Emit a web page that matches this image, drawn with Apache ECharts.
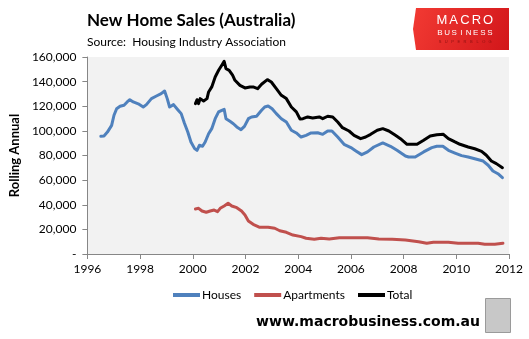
<!DOCTYPE html>
<html>
<head>
<meta charset="utf-8">
<script src="https://cdn.jsdelivr.net/npm/echarts@6/dist/echarts.min.js"></script>
<style>html,body{margin:0;padding:0;background:#fff;}#c{width:529px;height:339px;}</style>
</head>
<body>
<div id="c"></div>
<script>
// ---- Data (years as decimal, values in dwellings, rolling annual) ----
const housesYears = [1996.51,1996.63,1996.76,1996.92,1997.01,1997.11,1997.24,1997.39,1997.51,1997.61,1997.74,1997.93,1998.12,1998.24,1998.43,1998.62,1998.80,1998.93,1999.03,1999.12,1999.27,1999.43,1999.56,1999.68,1999.81,1999.93,2000.07,2000.16,2000.25,2000.37,2000.47,2000.60,2000.72,2000.85,2000.98,2001.10,2001.19,2001.26,2001.41,2001.54,2001.67,2001.83,2001.96,2002.11,2002.23,2002.42,2002.61,2002.73,2002.86,2003.01,2003.17,2003.36,2003.55,2003.74,2003.93,2004.11,2004.30,2004.49,2004.74,2004.93,2005.12,2005.28,2005.50,2005.74,2006.00,2006.19,2006.41,2006.63,2006.87,2007.21,2007.50,2007.75,2008.07,2008.19,2008.44,2008.76,2009.07,2009.26,2009.49,2009.70,2009.95,2010.20,2010.45,2010.70,2011.02,2011.21,2011.39,2011.58,2011.75];
const housesValues = [95600,95900,99000,104500,112700,118000,120000,120800,123500,125300,123500,122000,119400,121300,126200,128300,130200,132400,126200,119400,121300,117200,114000,106400,99100,91000,85600,84200,88300,87500,91000,97700,101800,109900,115400,116700,117500,109900,107800,105800,103200,101000,103700,109900,111300,111900,116700,119400,120200,118000,114000,109900,107200,100500,98300,95000,96400,98300,98500,97200,99900,99900,95000,89100,86400,83700,80700,82900,86900,90200,87500,84200,79600,78800,78800,82900,86400,87500,87500,84200,82000,79900,78800,77400,75500,72100,67400,65200,62000];

const aptYears = [2000.10,2000.22,2000.35,2000.51,2000.66,2000.81,2000.94,2001.04,2001.19,2001.34,2001.48,2001.67,2001.85,2001.98,2002.11,2002.29,2002.54,2002.86,2003.11,2003.30,2003.55,2003.80,2004.11,2004.30,2004.61,2004.87,2005.18,2005.56,2006.06,2006.63,2007.06,2007.57,2008.07,2008.57,2008.88,2009.13,2009.70,2010.07,2010.83,2011.08,2011.46,2011.77];
const aptValues = [36600,37100,34900,33900,34900,35700,34400,37100,39000,41200,39000,37600,34900,31700,26800,24100,21700,21700,20900,18900,17600,15400,14100,12800,11900,12800,12200,13200,13200,13200,12200,11900,11400,10000,8700,9500,9500,8700,8700,7900,7900,8700];

const totalYears = [2000.10,2000.16,2000.22,2000.28,2000.41,2000.54,2000.60,2000.72,2000.85,2000.98,2001.10,2001.19,2001.26,2001.38,2001.51,2001.60,2001.79,2001.98,2002.17,2002.29,2002.46,2002.61,2002.83,2002.98,2003.17,2003.36,2003.55,2003.74,2003.93,2004.07,2004.18,2004.36,2004.55,2004.80,2004.93,2005.12,2005.31,2005.50,2005.68,2005.93,2006.12,2006.37,2006.56,2006.75,2007.00,2007.21,2007.44,2007.69,2007.88,2008.13,2008.51,2008.76,2009.01,2009.26,2009.51,2009.70,2009.95,2010.14,2010.45,2010.70,2010.96,2011.14,2011.33,2011.52,2011.75];
const totalValues = [122100,125300,122100,126200,124300,126200,131600,135700,143800,149200,153300,156500,150500,149200,145200,141100,137000,134900,135700,135700,134300,137900,141600,139700,134300,128900,126200,119400,115400,109600,109900,111300,110500,111300,109900,111900,111300,107200,102600,99900,96400,93700,95000,97200,100500,101800,99900,96400,93700,89100,89100,92400,95900,96900,97200,93700,91000,89100,86900,85500,83400,80200,75500,73400,70100];

const seriesNames = ["Houses", "Apartments", "Total"];
const xTicks = [1996, 1998, 2000, 2002, 2004, 2006, 2008, 2010, 2012];
const yTicks = [0, 20000, 40000, 60000, 80000, 100000, 120000, 140000, 160000];

function pairs(xs, ys){ return xs.map((x,i)=>[x, ys[i]]); }

const FONT = 'Lato, "Liberation Sans", sans-serif';
const chart = echarts.init(document.getElementById('c'), null, {renderer:'canvas'});

// spaced logo lettering
function spaced(text, x0, x1, y, font, fill){
  const n = text.length, step = (x1 - x0) / (n - 1);
  return text.split('').map((ch, i) => ({type: 'text', x: x0 + i*step, y: y,
    style: {text: ch, font: font, fill: fill, align: 'center', verticalAlign: 'middle'}}));
}

const logo = [
  {type: 'polygon', shape: {points: [[416,8],[509,8],[509,50],[416,50],[413,29]]},
   style: {fill: new echarts.graphic.LinearGradient(0,0,1,1,[{offset:0,color:'#F23A33'},{offset:1,color:'#D2161A'}])}}
].concat(
  spaced('MACRO', 442, 488, 20, '13px "Liberation Sans", sans-serif', '#ffffff'),
  spaced('BUSINESS', 440, 490, 32.5, '8px "Liberation Sans", sans-serif', '#ffffff'),
  spaced('SUPERBLOG', 440, 490, 41.5, '4px "Liberation Sans", sans-serif', '#8a1010')
);

const option = {
  animation: false,
  backgroundColor: '#ffffff',
  textStyle: {fontFamily: FONT},
  grid: {left: 84, right: 20, top: 57, bottom: 85, show: true, backgroundColor: '#F2F2F2', borderWidth: 0},
  xAxis: {
    type: 'value', min: xTicks[0], max: xTicks[xTicks.length-1], interval: 2,
    axisLine: {show: true, lineStyle: {color: '#868686', width: 1}},
    axisTick: {show: true, length: 5, lineStyle: {color: '#868686'}},
    splitLine: {show: false},
    axisLabel: {color: '#000', fontSize: 12, fontFamily: FONT, margin: 9, formatter: v => String(v)}
  },
  yAxis: {
    type: 'value', min: yTicks[0], max: yTicks[yTicks.length-1], interval: 20000,
    name: 'Rolling Annual', nameLocation: 'middle', nameRotate: 90, nameGap: 62,
    nameTextStyle: {fontSize: 13, fontWeight: 'bold', color: '#000', fontFamily: FONT},
    axisLine: {show: true, lineStyle: {color: '#868686', width: 1}},
    axisTick: {show: true, length: 5, lineStyle: {color: '#868686'}},
    splitLine: {show: false},
    axisLabel: {color: '#000', fontSize: 12, fontFamily: FONT, margin: 11,
      formatter: v => v === 0 ? '-' : v.toLocaleString('en-US')}
  },
  legend: {
    left: 168, top: 284, itemWidth: 27, itemHeight: 4, itemGap: 13,
    icon: 'rect',
    textStyle: {fontSize: 12, color: '#000', fontFamily: FONT, padding: [0,0,0,-3]},
    data: seriesNames
  },
  series: [
    {name: seriesNames[0], type: 'line', data: pairs(housesYears, housesValues), showSymbol: false, symbol: 'none',
     color: '#4F81BD', lineStyle: {width: 3, color: '#4F81BD', cap: 'round', join: 'round'}},
    {name: seriesNames[1], type: 'line', data: pairs(aptYears, aptValues), showSymbol: false, symbol: 'none',
     color: '#C0504D', lineStyle: {width: 3, color: '#C0504D', cap: 'round', join: 'round'}},
    {name: seriesNames[2], type: 'line', data: pairs(totalYears, totalValues), showSymbol: false, symbol: 'none',
     color: '#000000', lineStyle: {width: 3, color: '#000000', cap: 'round', join: 'round'}}
  ],
  graphic: [
    {type: 'text', left: 87, top: 12, style: {text: 'New Home Sales (Australia)', font: 'bold 17px ' + FONT, fill: '#000'}},
    {type: 'text', left: 87, top: 36, style: {text: 'Source:  Housing Industry Association', font: '12px ' + FONT, fill: '#000'}},
    // footer
    {type: 'text', right: 49, top: 315, style: {text: 'www.macrobusiness.com.au', font: 'bold 14px "DejaVu Sans", sans-serif', fill: '#000'}},
    {type: 'rect', shape: {x: 485.5, y: 298.5, width: 25, height: 34}, style: {fill: '#C8C8C8', stroke: '#9A9A9A', lineWidth: 1}}
  ].concat(logo)
};
chart.setOption(option);
</script>
</body>
</html>
